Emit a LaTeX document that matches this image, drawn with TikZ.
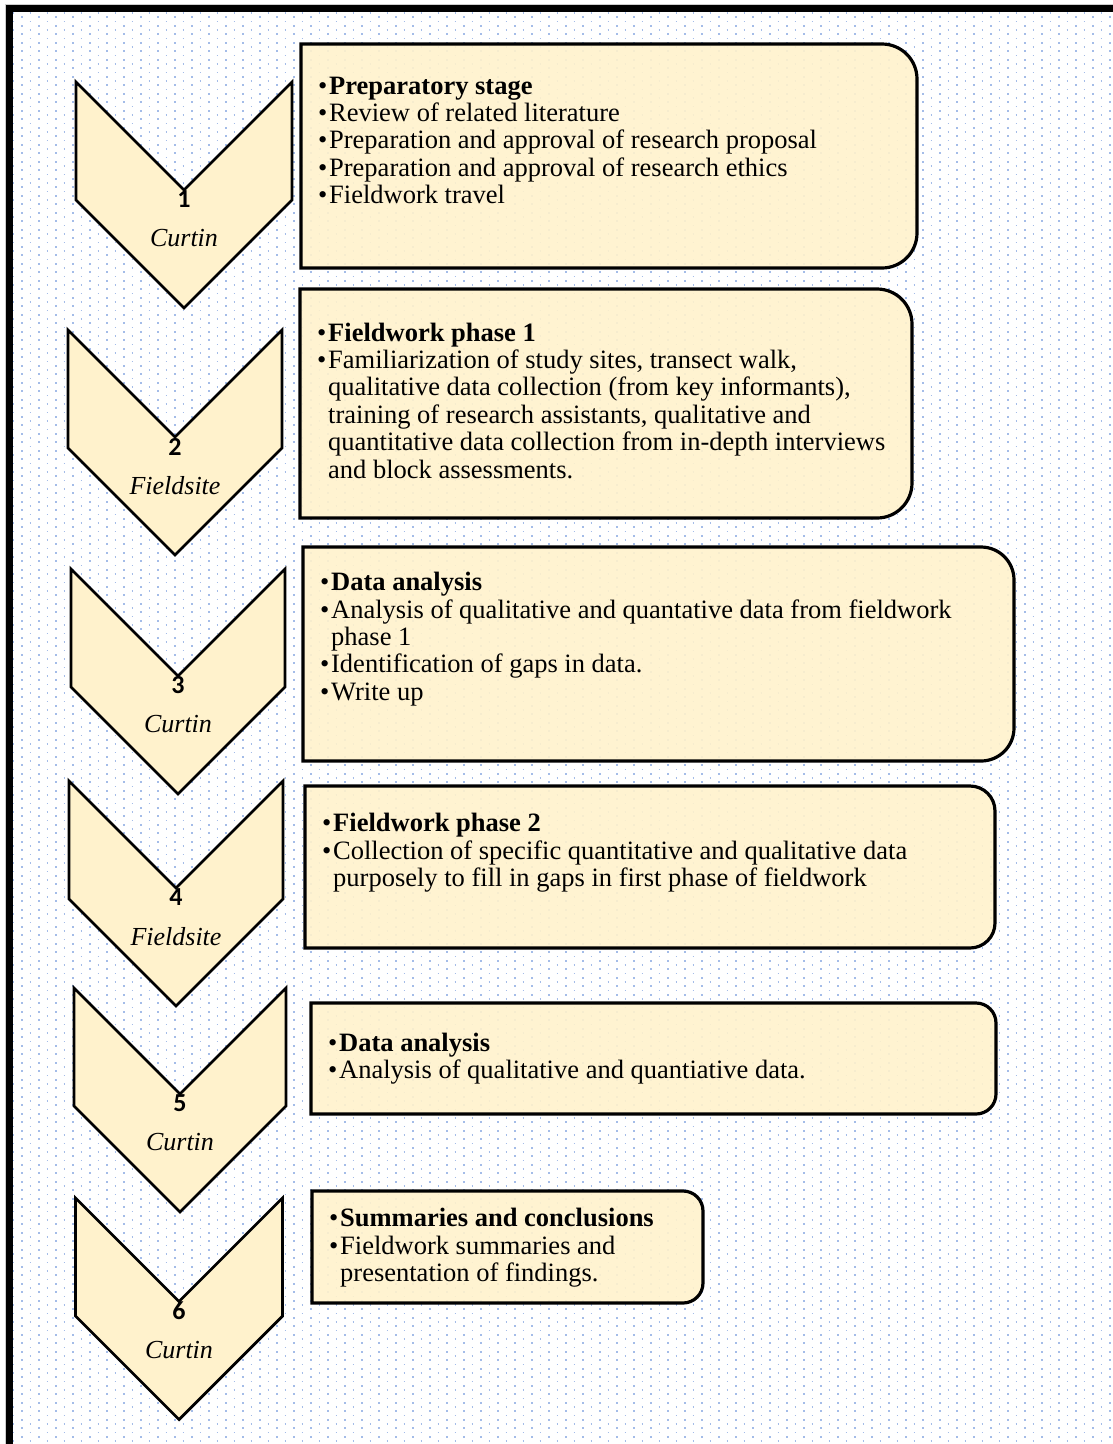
\documentclass[tikz,border=0pt]{standalone}
\usepackage{fontspec}
\setmainfont{Liberation Serif}
\newfontfamily\numfont{Carlito}
\definecolor{boxfill}{HTML}{FFF2CC}
\definecolor{dotblue}{RGB}{164,188,232}
\definecolor{framegray}{RGB}{205,205,205}
\newcommand\bul{\makebox[11pt][l]{\textbullet}}
\newcommand\cont{\hspace*{11pt}}
\tikzset{
  stagebox/.style={draw=black, line width=3.2pt, fill=boxfill, fill opacity=0.9, draw opacity=1},
  chev/.style={draw=black, line width=2.8pt, fill=boxfill, line join=miter},
  stagenum/.style={font=\numfont\bfseries\fontsize{26}{26}\selectfont, inner sep=0},
  place/.style={font=\itshape\fontsize{26}{26}\selectfont, inner sep=0},
  itemtext/.style={anchor=base west, inner sep=0, font=\fontsize{26.5}{27.4}\selectfont},
  dotrow/.style={dotblue, line width=1.7pt, dash pattern=on 1.7pt off 15.3pt},
}
\begin{document}
\begin{tikzpicture}[x=1pt, y=-1pt]
\useasboundingbox (0,0) rectangle (1113,1444);
\clip (0,0) rectangle (1113,1444);
\fill[white] (0,0) rectangle (1113,1444);

% dotted background inside the frame
\foreach \k in {0,...,339}{
  \pgfmathsetmacro\yy{13+4.25*\k}
  \pgfmathsetmacro\ph{mod(\k,2)*8.5}
  \draw[dotrow, dash phase=\ph pt] (12.6,\yy) -- (1113,\yy);
}

% outer frame (left and top sides)
\draw[framegray, line width=1pt] (5.5,1460) -- (5.5,4.5) -- (1130,4.5);
\draw[black, line width=6.5pt] (9.3,1460) -- (9.3,8.3) -- (1130,8.3);

% stage chevrons: centre x / top y / half width / number / place
\foreach \cx/\ty/\hw/\num/\plc [count=\i] in {
   184/82/108/1/Curtin,
   175/330/107/2/Fieldsite,
   178/569/107/3/Curtin,
   176/781/107/4/Fieldsite,
   180/988/106/5/Curtin,
   179/1198/103.5/6/Curtin}{
  \draw[chev] (\cx-\hw,\ty) -- (\cx,\ty+\hw) -- (\cx+\hw,\ty)
     -- (\cx+\hw,\ty+118) -- (\cx,\ty+118+\hw) -- (\cx-\hw,\ty+118) -- cycle;
  \node[stagenum] (num\i) at (\cx,\ty+\hw+9.5) {\num};
  \node[place] (site\i) at (\cx,\ty+\hw+48.5) {\plc};
}

% stage boxes: left / top / right / bottom / corner radius (right side only)
\foreach \l/\t/\r/\b/\rr in {
   301/44/917/268/35,
   300/289/912/518/35,
   303/547/1014/761/33,
   305/786/995/948/25,
   311/1003/996/1114/20,
   312/1191/703/1303/20}{
  \draw[stagebox] (\l,\b) -- (\l,\t) -- (\r-\rr,\t)
     arc[start angle=-90, end angle=0, radius=\rr] -- (\r,\b-\rr)
     arc[start angle=0, end angle=90, radius=\rr] -- cycle;
}

% stage contents
\node[itemtext] (text1) at (318,94) {\parbox[t]{600pt}{%
  \bul\textbf{Preparatory stage}\\
  \bul Review of related literature\\
  \bul Preparation and approval of research proposal\\
  \bul Preparation and approval of research ethics\\
  \bul Fieldwork travel}};

\node[itemtext] (text2) at (317,341) {\parbox[t]{600pt}{%
  \bul\textbf{Fieldwork phase 1}\\
  \bul Familiarization of study sites, transect walk,\\
  \cont qualitative data collection (from key informants),\\
  \cont training of research assistants, qualitative and\\
  \cont quantitative data collection from in-depth interviews\\
  \cont and block assessments.}};

\node[itemtext] (text3) at (320,590.7) {\parbox[t]{700pt}{%
  \bul\textbf{Data analysis}\\
  \bul Analysis of qualitative and quantative data from fieldwork\\
  \cont phase 1\\
  \bul Identification of gaps in data.\\
  \bul Write up}};

\node[itemtext] (text4) at (322,831.7) {\parbox[t]{700pt}{%
  \bul\textbf{Fieldwork phase 2}\\
  \bul Collection of specific quantitative and qualitative data\\
  \cont purposely to fill in gaps in first phase of fieldwork}};

\node[itemtext] (text5) at (328,1051) {\parbox[t]{700pt}{%
  \bul\textbf{Data analysis}\\
  \bul Analysis of qualitative and quantiative data.}};

\node[itemtext] (text6) at (329,1226.7) {\parbox[t]{380pt}{%
  \bul\textbf{Summaries and conclusions}\\
  \bul Fieldwork summaries and\\
  \cont presentation of findings.}};
\end{tikzpicture}
\end{document}
